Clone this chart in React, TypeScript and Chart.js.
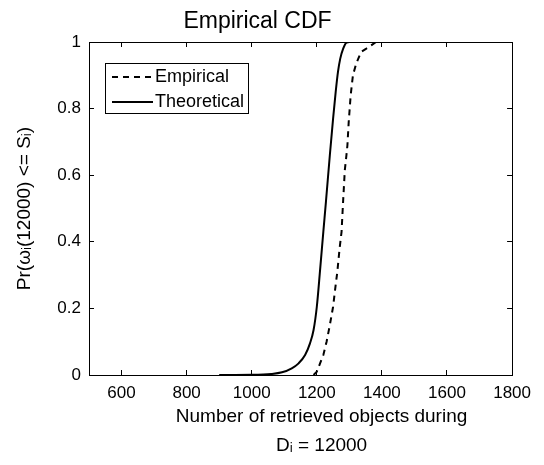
import React, { useEffect, useRef } from "react";
import { Chart, registerables } from "chart.js";

Chart.register(...registerables);

const FONT = '"Liberation Sans", Arial, Helvetica, sans-serif';

const titleText = "Empirical CDF";
const xLabelLines = ["Number of retrieved objects during", "Dᵢ = 12000"];
const yLabelText = "Pr(ωᵢ(12000) <= Sᵢ)";
const seriesLabels = ["Empirical", "Theoretical"];

const xTicks = [600, 800, 1000, 1200, 1400, 1600, 1800];
const yTicks = [0, 0.2, 0.4, 0.6, 0.8, 1];

const empiricalX = [1190, 1200, 1210, 1220, 1230, 1240, 1250, 1256, 1263, 1270, 1276, 1281, 1286, 1291, 1294, 1298, 1304, 1311, 1321, 1336, 1352, 1367, 1382, 1390];
const empiricalY = [0, 0.01, 0.035, 0.06, 0.1, 0.15, 0.205, 0.255, 0.31, 0.38, 0.43, 0.525, 0.615, 0.66, 0.69, 0.76, 0.84, 0.9, 0.935, 0.97, 0.98, 0.99, 1, 1];

const theoreticalX = [900, 1000, 1060, 1093, 1123, 1144, 1164, 1179, 1190, 1200, 1210, 1220, 1228, 1240, 1250, 1258, 1265, 1272, 1281, 1291, 1300, 1390];
const theoreticalY = [0, 0.0005, 0.003, 0.008, 0.02, 0.035, 0.06, 0.095, 0.135, 0.205, 0.315, 0.43, 0.52, 0.66, 0.77, 0.85, 0.91, 0.95, 0.98, 0.998, 1, 1];

const boxLegend = {
  id: "boxLegend",
  afterDatasetsDraw(chart: any) {
    const ctx = chart.ctx;
    const area = chart.chartArea;
    const left = area.left + 16;
    const top = area.top + 21;
    const w = 143;
    const h = 50;
    ctx.save();
    ctx.fillStyle = "#fff";
    ctx.fillRect(left, top, w, h);
    ctx.strokeStyle = "#000";
    ctx.lineWidth = 1;
    ctx.setLineDash([]);
    ctx.strokeRect(Math.round(left) + 0.5, Math.round(top) + 0.5, w, h);
    chart.data.datasets.forEach((ds: any, i: number) => {
      const y = top + 14 + i * 25;
      ctx.strokeStyle = ds.borderColor;
      ctx.lineWidth = ds.borderWidth;
      ctx.setLineDash(ds.borderDash || []);
      ctx.beginPath();
      ctx.moveTo(left + 7, y);
      ctx.lineTo(left + 48, y);
      ctx.stroke();
      ctx.setLineDash([]);
      ctx.fillStyle = "#000";
      ctx.font = `18px ${FONT}`;
      ctx.textBaseline = "middle";
      ctx.textAlign = "left";
      ctx.fillText(ds.label, left + 50, y);
    });
    ctx.restore();
  },
};

const xAxisLabel = {
  id: "xAxisLabel",
  afterDraw(chart: any) {
    const ctx = chart.ctx;
    const area = chart.chartArea;
    const cx = (area.left + area.right) / 2 + 21;
    ctx.save();
    ctx.fillStyle = "#000";
    ctx.font = `19px ${FONT}`;
    ctx.textAlign = "center";
    ctx.textBaseline = "middle";
    xLabelLines.forEach((line, i) => {
      ctx.fillText(line, cx, area.bottom + 42 + i * 29);
    });
    ctx.restore();
  },
};

function tickGrid() {
  return { drawOnChartArea: false, drawTicks: true, tickLength: -5, color: "#000", lineWidth: 1 };
}

export default function App() {
  const ref = useRef<HTMLCanvasElement | null>(null);

  useEffect(() => {
    if (!ref.current) return;
    const setX = (s: any) => {
      s.ticks = xTicks.map((v) => ({ value: v }));
    };
    const setY = (s: any) => {
      s.ticks = yTicks.map((v) => ({ value: v }));
    };
    const plain = (v: any) => String(v);
    const chart = new Chart(ref.current, {
      type: "line",
      data: {
        datasets: [
          {
            label: seriesLabels[0],
            data: empiricalX.map((x, i) => ({ x, y: empiricalY[i] })),
            borderColor: "#000",
            borderWidth: 2,
            borderDash: [6, 5],
            pointRadius: 0,
            fill: false,
            tension: 0,
          },
          {
            label: seriesLabels[1],
            data: theoreticalX.map((x, i) => ({ x, y: theoreticalY[i] })),
            borderColor: "#000",
            borderWidth: 2,
            pointRadius: 0,
            fill: false,
            cubicInterpolationMode: "monotone",
          },
        ],
      },
      options: {
        animation: false,
        responsive: false,
        devicePixelRatio: 1,
        layout: { padding: { left: 0, right: 29, top: 0, bottom: 0 } },
        plugins: {
          legend: { display: false },
          tooltip: { enabled: false },
          title: {
            display: true,
            text: titleText,
            color: "#000",
            font: { family: FONT, size: 23, weight: "normal" },
            padding: { top: 8, bottom: 6.4 },
          },
        },
        scales: {
          x: {
            type: "linear",
            position: "bottom",
            min: 500,
            max: 1800,
            afterBuildTicks: setX,
            afterFit: (s: any) => {
              s.height = 90;
            },
            grid: tickGrid(),
            border: { display: true, color: "#000", width: 1 },
            ticks: { padding: 13, color: "#000", font: { family: FONT, size: 17 }, maxRotation: 0, autoSkip: false, callback: plain },
          },
          x2: {
            type: "linear",
            position: "top",
            min: 500,
            max: 1800,
            afterBuildTicks: setX,
            afterFit: (s: any) => {
              s.height = 0;
            },
            grid: tickGrid(),
            border: { display: true, color: "#000", width: 1 },
            ticks: { display: false },
          },
          y: {
            type: "linear",
            position: "left",
            min: 0,
            max: 1,
            afterBuildTicks: setY,
            afterFit: (s: any) => {
              s.width = 89;
            },
            grid: tickGrid(),
            border: { display: true, color: "#000", width: 1 },
            ticks: { padding: 13, color: "#000", font: { family: FONT, size: 17 }, callback: plain },
            title: {
              display: true,
              text: yLabelText,
              color: "#000",
              font: { family: FONT, size: 19 },
              padding: { top: 13, bottom: 0 },
            },
          },
          y2: {
            type: "linear",
            position: "right",
            min: 0,
            max: 1,
            afterBuildTicks: setY,
            afterFit: (s: any) => {
              s.width = 0;
            },
            grid: tickGrid(),
            border: { display: true, color: "#000", width: 1 },
            ticks: { display: false },
          },
        },
      } as any,
      plugins: [boxLegend, xAxisLabel],
    });
    return () => chart.destroy();
  }, []);

  return (
    <div style={{ position: "fixed", left: 0, top: 0, width: 544, height: 465, background: "#fff" }}>
      <canvas ref={ref} width={544} height={465} style={{ width: 544, height: 465 }} />
    </div>
  );
}
